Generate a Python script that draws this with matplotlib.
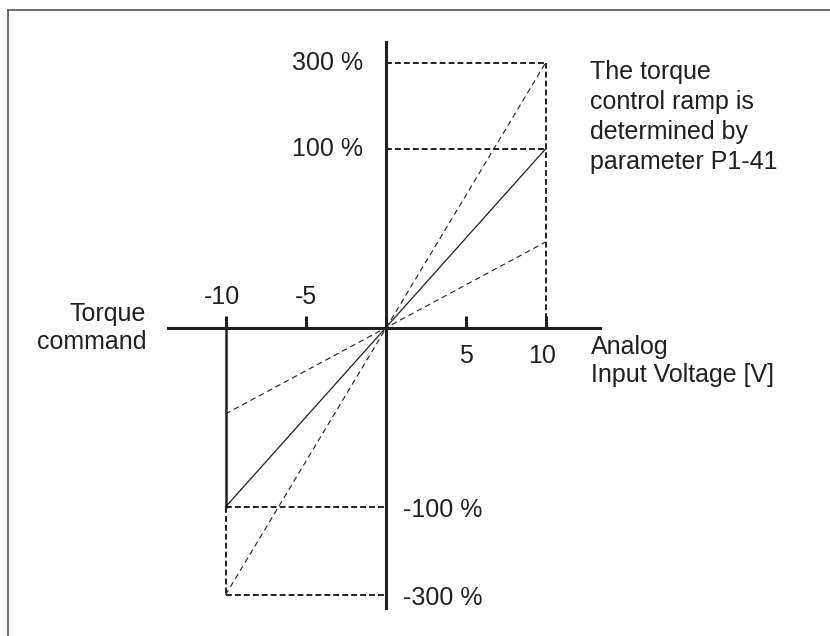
import numpy as np
import matplotlib
matplotlib.use("Agg")
import matplotlib.pyplot as plt
from matplotlib.lines import Line2D

plt.rcParams['font.family'] = ['Liberation Sans', 'DejaVu Sans']

# analog input (V) and torque command (%) values
voltage_ticks = [-10, -5, 5, 10]
voltage_labels = ["-10", "-5", "5", "10"]
torque_ticks = [300, 100, -100, -300]
torque_labels = ["300 %", "100 %", "-100 %", "-300 %"]

ramp_x = [-10, 10]
ramp_nominal = [-100, 100]
ramp_steep = [-300, 300]
ramp_shallow = [-48, 48]

ink = "#231f20"
FS = 18

# torque axis is drawn compressed above 100 % (schematic, not linear)
pct_pts = np.array([-1000, -300, -100, 0, 100, 300, 1000])
pix_pts = np.array([-571, -267, -179, 0, 179, 265, 571])


def fwd(y):
    return np.interp(y, pct_pts, pix_pts)


def inv(d):
    return np.interp(d, pix_pts, pct_pts)


W, H = 830, 636
fig = plt.figure(figsize=(W / 100, H / 100), dpi=100)
ax = fig.add_axes([0, 0, 1, 1])
ax.set_yscale('function', functions=(fwd, inv))

ox, oy = 385.5, 328  # origin in pixels
ax.set_xlim(-ox / 16, (W - ox) / 16)
ax.set_ylim(inv(-(H - oy)), inv(oy))
ax.patch.set_alpha(0)


def fx(px):
    return px / W


def fy(py):
    return 1 - py / H


# axes through the origin
for s in ['top', 'right']:
    ax.spines[s].set_visible(False)
ax.spines['left'].set_position('zero')
ax.spines['bottom'].set_position('zero')
for s in ['left', 'bottom']:
    ax.spines[s].set_linewidth(2.2)
    ax.spines[s].set_color(ink)
ax.spines['bottom'].set_bounds((168 - ox) / 16, (600 - ox) / 16)
ax.spines['left'].set_bounds(inv(-280), inv(286))
ax.set_xticks(voltage_ticks)
ax.set_xticklabels([])
ax.tick_params(axis='x', direction='in', length=8.6, width=2.2, color=ink)
ax.set_yticks([])

# reference box lines
box_dash = (0, (3, 1.6))
ax.plot([0, ramp_x[1]], [ramp_steep[1]] * 2, ls=box_dash, lw=1.4, color=ink)
ax.plot([0, ramp_x[1]], [ramp_nominal[1]] * 2, ls=box_dash, lw=1.4, color=ink)
ax.plot([ramp_x[1]] * 2, [0, ramp_steep[1]], ls=box_dash, lw=1.4, color=ink)
ax.plot([ramp_x[0], 0], [ramp_nominal[0]] * 2, ls=box_dash, lw=1.4, color=ink)
ax.plot([ramp_x[0], 0], [ramp_steep[0]] * 2, ls=box_dash, lw=1.4, color=ink)
ax.plot([ramp_x[0]] * 2, [0, ramp_nominal[0]], lw=1.8, color=ink)
ax.plot([ramp_x[0]] * 2, [ramp_nominal[0], ramp_steep[0]], ls=box_dash, lw=1.4, color=ink)

# ramps
ax.plot(ramp_x, ramp_nominal, lw=0.9, color=ink)
ax.plot(ramp_x, ramp_steep, ls=(0, (5, 3.5)), lw=0.8, color=ink)
ax.plot(ramp_x, ramp_shallow, ls=(0, (5, 3.5)), lw=0.8, color=ink)

# voltage labels: negatives above the axis, positives below
for v, lab in zip(voltage_ticks, voltage_labels):
    off = 22.5 if v < 0 else -20
    dx = -2.5 if len(lab.strip('-')) > 1 else 0
    ax.annotate(lab, (v, 0), xytext=(dx, off), textcoords='offset points',
                ha='center', va='center', fontsize=FS, color=ink)

# torque labels: positives left of the axis, negatives right
for t, lab in zip(torque_ticks, torque_labels):
    if t > 0:
        ax.annotate(lab, (0, t), xytext=(-16, 0), textcoords='offset points',
                    ha='right', va='center', fontsize=FS, color=ink)
    else:
        ax.annotate(lab, (0, t), xytext=(12.5, -2), textcoords='offset points',
                    ha='left', va='center', fontsize=FS, color=ink)

fig.text(fx(146), fy(328), "Torque\ncommand", ha='right', va='center',
         multialignment='right', fontsize=FS, color=ink, linespacing=1.25)
fig.text(fx(591), fy(361), "Analog\nInput Voltage [V]", ha='left', va='center',
         fontsize=FS, color=ink, linespacing=1.25)
fig.text(fx(590), fy(117), "The torque\ncontrol ramp is\ndetermined by\nparameter P1-41",
         ha='left', va='center', fontsize=FS, color=ink, linespacing=1.3)

# outer frame (left and top edges)
fig.add_artist(Line2D([fx(8), fx(8)], [fy(10), 0], lw=1.2, color="#555555"))
fig.add_artist(Line2D([fx(8), 1], [fy(10), fy(10)], lw=1.2, color="#555555"))

fig.savefig("out.png", dpi=100)
